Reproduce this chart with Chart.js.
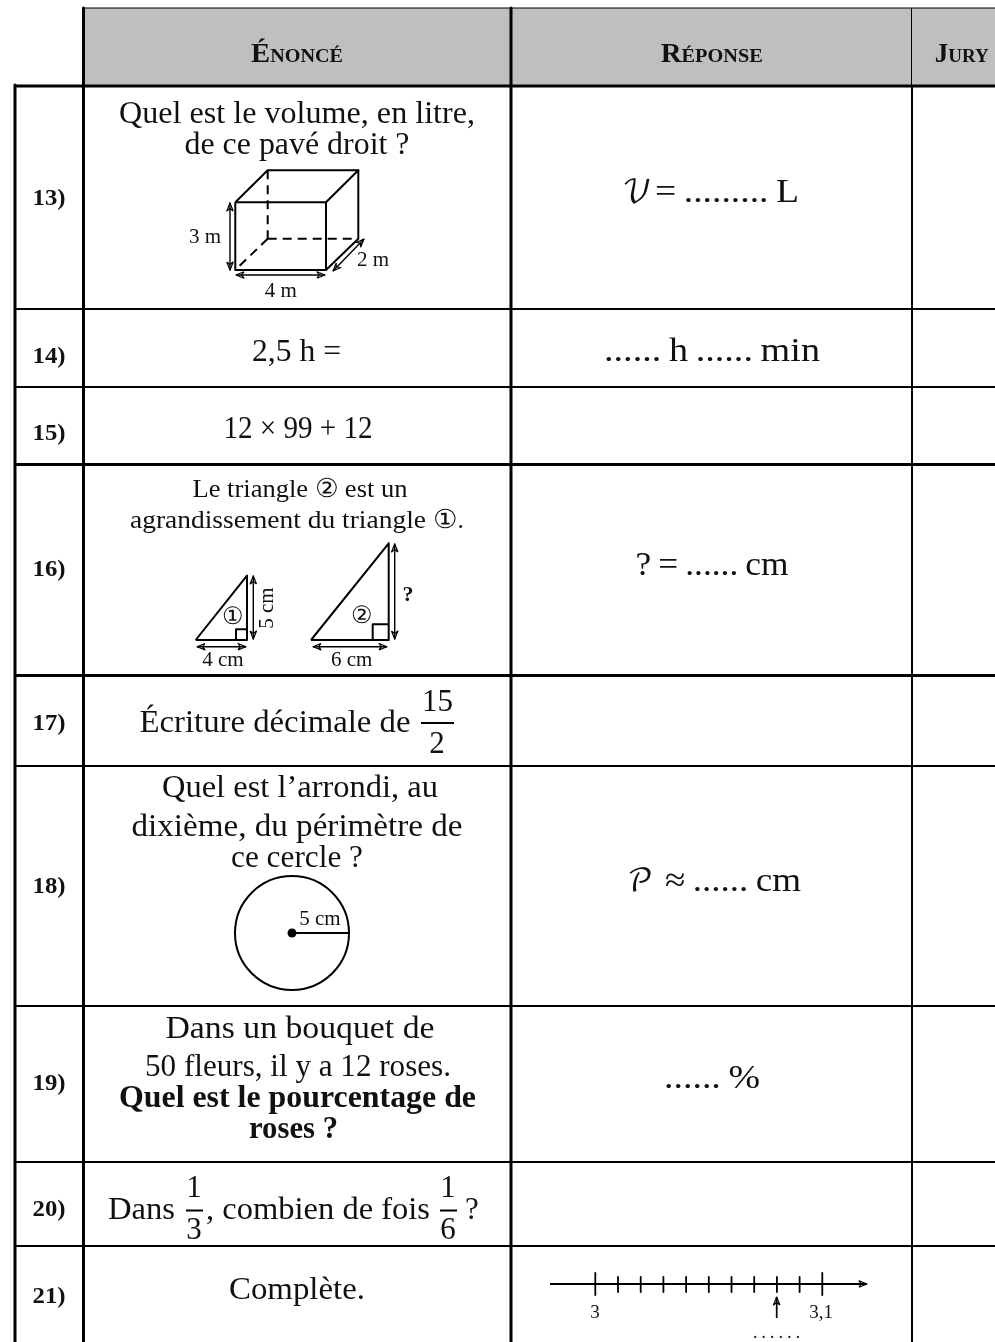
<!DOCTYPE html>
<html>
<head>
<meta charset="utf-8">
<title>Énoncé</title>
<script src="https://cdn.jsdelivr.net/npm/chart.js@4"></script>
<style>
  html, body { margin: 0; padding: 0; background: #fff; }
  #wrap { position: relative; width: 995px; height: 1342px; }
</style>
</head>
<body>
<div id="wrap"><canvas id="sheet"></canvas></div>
<script>
// all positions are in picture pixels, the x and y scales run 0-995 and 0-1342
const headerBand = [[83, 8], [995, 8]];
const headerBottom = 85.5;

const thickLines = [
  [[83.5, 8], [83.5, 1342]],
  [[511, 8], [511, 1342]],
  [[15, 85], [15, 1342]],
  [[14, 86], [995, 86]],
  [[14, 464.5], [995, 464.5]],
  [[14, 675.5], [995, 675.5]]
];
const rowLines = [
  [[14, 309], [995, 309]],
  [[14, 387], [995, 387]],
  [[14, 766], [995, 766]],
  [[14, 1006], [995, 1006]],
  [[14, 1162], [995, 1162]],
  [[14, 1246], [995, 1246]],
  [[912, 86], [912, 1342]]
];
const thinLines = [
  [[83, 8], [995, 8]],
  [[911.5, 8], [911.5, 85]]
];
const figureLines = [
  // pavé
  [[235.3, 202.3], [326, 202.3], [326, 270], [235.3, 270], [235.3, 202.3]],
  [[235.3, 202.3], [267.7, 170.3], [358.3, 170.3], [326, 202.3]],
  [[358.3, 170.3], [358.3, 238.7], [326, 270]],
  // triangles
  [[195.7, 640], [247, 575.7], [247, 640], [195.7, 640]],
  [[236, 640], [236, 629.3], [247, 629.3]],
  [[311, 640], [388.7, 543.3], [388.7, 640], [311, 640]],
  [[372.7, 640], [372.7, 624.3], [388.7, 624.3]],
  // rayon
  [[292, 933], [349, 933]],
  // droite graduée
  [[550, 1284], [866, 1284]]
];
const dashedLines = [
  [[267.7, 170.3], [267.7, 238.7]],
  [[267.7, 238.7], [358.3, 238.7]],
  [[267.7, 238.7], [235.3, 270]]
];
const fractionBars = [
  [[421, 723], [454, 723]],
  [[186, 1210.5], [203, 1210.5]],
  [[440, 1210.5], [457, 1210.5]]
];
const doubleArrows = [
  [[230, 203], [230, 270]],
  [[236, 275], [325, 275]],
  [[333, 271], [364, 239]],
  [[197, 646.7], [246, 646.7]],
  [[253.3, 576], [253.3, 639]],
  [[313, 646.7], [387, 646.7]],
  [[394.7, 544], [394.7, 639]]
];
const singleArrows = [
  [[776.7, 1318], [776.7, 1297]],
  [[860, 1284], [867, 1284]]
];
const lineMajorTicks = [595.3, 822.3];
const lineMinorTicks = [618, 640.7, 663.4, 686.1, 708.8, 731.5, 754.2, 776.9, 799.6];

const circleCenter = [[292, 933]];
const circleRadius = 57;
const centerDot = 4.5;

const serif = '"Liberation Serif", serif';
const BODY = 31, ANSWER = 34, SMALL = 26, FIG = 21;

// text, x, baseline y, size, width it has in the picture (0 = free)
const rowNumbers = [
  ['13)', 49, 205], ['14)', 49, 363], ['15)', 49, 440], ['16)', 49, 576], ['17)', 49, 730],
  ['18)', 49, 893], ['19)', 49, 1090], ['20)', 49, 1216], ['21)', 49, 1303]
];
const headers = [
  ['Énoncé', 297, 62, 92], ['Réponse', 711.7, 62, 102], ['Jury', 961.7, 62, 54]
];
const bodyTexts = [
  ['Quel est le volume, en litre,', 297, 123, BODY, 356],
  ['de ce pavé droit ?', 297, 154, BODY, 225],
  ['2,5 h =', 296.5, 361, BODY, 89],
  ['12 × 99 + 12', 298, 438, BODY, 149],
  ['Le triangle ② est un', 300, 497, SMALL, 215],
  ['agrandissement du triangle ①.', 297, 527.5, SMALL, 334],
  ['Écriture décimale de', 275, 732, BODY, 271],
  ['15', 437.5, 711, BODY, 0],
  ['2', 437, 753, BODY, 0],
  ['Quel est l’arrondi, au', 300, 797, BODY, 276],
  ['dixième, du périmètre de', 297, 836, BODY, 331],
  ['ce cercle ?', 297, 867, BODY, 132],
  ['Dans un bouquet de', 300, 1038, BODY, 269],
  ['50 fleurs, il y a 12 roses.', 298, 1076, BODY, 306],
  ['Dans', 141.5, 1219, BODY, 67],
  ['1', 194, 1197, BODY, 0],
  ['3', 194, 1239, BODY, 0],
  [', combien de fois', 318, 1219, BODY, 224],
  ['1', 448, 1197, BODY, 0],
  ['6', 448, 1239, BODY, 0],
  ['?', 472, 1219, BODY, 0],
  ['Complète.', 297, 1299, BODY, 136],
  ['=\u2009.........\u2009L', 727, 202, ANSWER, 144],
  ['......\u2009h\u2009......\u2009min', 712, 361, ANSWER, 216],
  ['?\u2009=\u2009......\u2009cm', 712, 575, ANSWER, 153],
  ['≈\u2009......\u2009cm', 733, 891, ANSWER, 136],
  ['......\u2009%', 712, 1088, ANSWER, 96]
];
const boldTexts = [
  ['Quel est le pourcentage de', 297.5, 1107, BODY, 357],
  ['roses ?', 293.5, 1138, BODY, 89]
];
const scriptTexts = [
  ['𝒱', 637, 202, BODY], ['𝒫', 640, 891, BODY]
];
const figureTexts = [
  ['3 m', 205, 243], ['2 m', 373, 266], ['4 m', 280.7, 297],
  ['4 cm', 223, 666], ['6 cm', 351.7, 666], ['5 cm', 320, 925]
];
const circledDigits = [['①', 233, 624], ['②', 362, 623]];
const lineLabels = [['3', 595, 1318, 0], ['3,1', 821, 1318, 0], ['. . . . . .', 776.5, 1338, 47]];
const sideways = [['5 cm', 273, 608]];
const boldMark = [['?', 408, 601, 22]];

// closed, notched head of an arrow whose tip is q
function arrowHead(p, q) {
  const dx = q[0] - p[0], dy = q[1] - p[1], len = Math.hypot(dx, dy);
  const ux = dx / len, uy = dy / len, l = 8, w = 3.2;
  const left = [q[0] - ux * l - uy * w, q[1] - uy * l + ux * w];
  const right = [q[0] - ux * l + uy * w, q[1] - uy * l - ux * w];
  const notch = [q[0] - ux * l * 0.7, q[1] - uy * l * 0.7];
  return [left, q, right, notch, left];
}

function lineSet(pts, width, extra) {
  return Object.assign({
    type: 'scatter',
    data: pts.map(p => ({x: p[0], y: p[1]})),
    showLine: true,
    borderColor: '#000',
    borderWidth: width,
    pointRadius: 0,
    fill: false,
    tension: 0,
    borderCapStyle: 'butt',
    borderJoinStyle: 'round'
  }, extra || {});
}

let datasets = [];
thinLines.forEach(l => datasets.push(lineSet(l, 1)));
thickLines.forEach(l => datasets.push(lineSet(l, 3)));
rowLines.forEach(l => datasets.push(lineSet(l, 2)));
figureLines.forEach(l => datasets.push(lineSet(l, 2)));
dashedLines.forEach(l => datasets.push(lineSet(l, 2, {borderDash: [9, 6]})));
fractionBars.forEach(l => datasets.push(lineSet(l, 2)));
doubleArrows.forEach(a => {
  datasets.push(lineSet(a, 1.4));
  datasets.push(lineSet(arrowHead(a[0], a[1]), 1.2));
  datasets.push(lineSet(arrowHead(a[1], a[0]), 1.2));
});
singleArrows.forEach(a => {
  datasets.push(lineSet(a, 1.7));
  datasets.push(lineSet(arrowHead(a[0], a[1]), 1.2));
});
lineMajorTicks.forEach(x => datasets.push(lineSet([[x, 1273], [x, 1295]], 1.8)));
lineMinorTicks.forEach(x => datasets.push(lineSet([[x, 1277], [x, 1292]], 1.8)));
datasets.push({
  type: 'scatter',
  data: circleCenter.map(p => ({x: p[0], y: p[1]})),
  pointRadius: circleRadius,
  pointBackgroundColor: 'rgba(0,0,0,0)',
  pointBorderColor: '#000',
  pointBorderWidth: 2
});
datasets.push({
  type: 'scatter',
  data: circleCenter.map(p => ({x: p[0], y: p[1]})),
  pointRadius: centerDot,
  pointBackgroundColor: '#000',
  pointBorderWidth: 0
});
// last in the list is painted first, the grey band stays under the rules
datasets.push(lineSet(headerBand, 0, {fill: {value: headerBottom}, backgroundColor: '#bfbfbf', borderColor: '#bfbfbf'}));

// squeeze or stretch a text to the width measured on the picture
function putText(ctx, text, x, y, width) {
  if (!width) { ctx.fillText(text, x, y); return; }
  const w = ctx.measureText(text).width;
  ctx.save();
  ctx.translate(x, y);
  ctx.scale(width / w, 1);
  ctx.fillText(text, 0, 0);
  ctx.restore();
}

const textPlugin = {
  id: 'sheetText',
  afterDatasetsDraw(chart) {
    const ctx = chart.ctx, sx = chart.scales.x, sy = chart.scales.y;
    const X = v => sx.getPixelForValue(v), Y = v => sy.getPixelForValue(v);
    ctx.save();
    ctx.fillStyle = '#111';
    ctx.textAlign = 'center';
    ctx.textBaseline = 'alphabetic';
    ctx.font = 'bold 23px ' + serif;
    rowNumbers.forEach(t => putText(ctx, t[0], X(t[1]), Y(t[2]), 33));
    ctx.font = 'small-caps bold 27px ' + serif;
    headers.forEach(t => putText(ctx, t[0], X(t[1]), Y(t[2]), t[3]));
    bodyTexts.forEach(t => {
      ctx.font = t[3] + 'px ' + serif;
      putText(ctx, t[0], X(t[1]), Y(t[2]), t[4]);
    });
    boldTexts.forEach(t => {
      ctx.font = 'bold ' + t[3] + 'px ' + serif;
      putText(ctx, t[0], X(t[1]), Y(t[2]), t[4]);
    });
    scriptTexts.forEach(t => {
      ctx.font = t[3] + 'px "DejaVu Math TeX Gyre", "DejaVu Sans", ' + serif;
      putText(ctx, t[0], X(t[1]), Y(t[2]), 0);
    });
    ctx.font = FIG + 'px ' + serif;
    figureTexts.forEach(t => putText(ctx, t[0], X(t[1]), Y(t[2]), 0));
    sideways.forEach(t => {
      ctx.save();
      ctx.translate(X(t[1]), Y(t[2]));
      ctx.rotate(-Math.PI / 2);
      ctx.fillText(t[0], 0, 0);
      ctx.restore();
    });
    ctx.font = '19px ' + serif;
    lineLabels.forEach(t => putText(ctx, t[0], X(t[1]), Y(t[2]), t[3]));
    ctx.font = '24px ' + serif;
    circledDigits.forEach(t => putText(ctx, t[0], X(t[1]), Y(t[2]), 0));
    boldMark.forEach(t => {
      ctx.font = 'bold ' + t[3] + 'px ' + serif;
      putText(ctx, t[0], X(t[1]), Y(t[2]), 0);
    });
    ctx.restore();
  }
};

new Chart(document.getElementById('sheet'), {
  data: {datasets: datasets},
  plugins: [textPlugin],
  options: {
    responsive: true,
    maintainAspectRatio: false,
    animation: false,
    events: [],
    layout: {padding: 0, autoPadding: false},
    plugins: {legend: {display: false}, tooltip: {enabled: false}, title: {display: false}},
    scales: {
      x: {type: 'linear', min: 0, max: 995, display: false},
      y: {type: 'linear', min: 0, max: 1342, reverse: true, display: false}
    },
    clip: false
  }
});
</script>
</body>
</html>
